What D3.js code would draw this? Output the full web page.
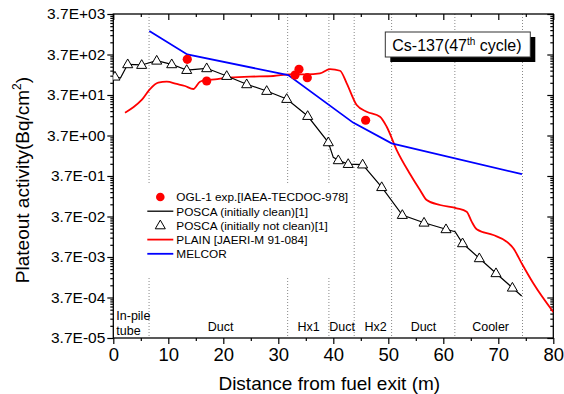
<!DOCTYPE html>
<html>
<head>
<meta charset="utf-8">
<script src="https://cdn.jsdelivr.net/npm/d3@7"></script>
<style>
  body { margin: 0; background: #fff; }
  svg { font-family: "Liberation Sans", Arial, sans-serif; }
</style>
</head>
<body>
<div class="chart"></div>
<script>
// Data (x in m, y in Bq/cm2)
const melcor = [[6.55, 1400], [13.45, 370], [31.8, 115], [43.6, 7.7], [50.6, 2.37], [74.3, 0.41]];

const ogl1 = [[13.45, 282], [16.98, 82], [33.04, 115], [33.76, 160], [35.27, 99], [45.88, 8.8]];

const poscaNotClean = [[0.3, 105], [2.62, 212], [5.16, 204], [7.89, 260], [10.62, 212], [13.35, 153],
    [16.98, 169], [20.62, 109], [24.25, 68], [27.89, 46.5], [31.53, 29.5], [35.34, 11.2],
    [39.09, 2.51], [40.91, 0.904], [42.71, 0.73], [45.33, 0.71], [48.8, 0.196], [52.55, 0.0403],
    [56.5, 0.026], [60.49, 0.0179], [63.5, 0.00806], [66.55, 0.00344], [69.58, 0.00147],
    [72.56, 0.000646]];

const poscaClean = [[0, 109], [1.3, 97], [2.62, 212], [5.16, 204], [7.89, 260], [10.62, 212],
    [13.35, 153], [16.98, 169], [20.62, 109], [24.25, 68], [27.89, 46.5], [31.53, 29.5],
    [35.34, 11.2], [39.09, 2.51], [40.0, 1.07], [40.91, 0.904], [42.71, 0.73], [45.33, 0.71],
    [48.8, 0.196], [52.55, 0.0403], [56.5, 0.026], [60.49, 0.0179], [62.15, 0.0156],
    [63.5, 0.00806], [66.55, 0.00344], [69.58, 0.00147], [72.56, 0.000646], [74.25, 0.000403]];

const plain = [[2.13, 13.5], [3.64, 18.4], [5.16, 27.9], [6.67, 52], [8.18, 74.5], [9.71, 78.9],
    [11.53, 69.2], [13.04, 61.7], [14.55, 52], [15.76, 78.9], [16.98, 86.8], [18.49, 90.4],
    [20.62, 99], [24.87, 105], [29.09, 109], [32.13, 120], [35.16, 120], [37.58, 127],
    [39.4, 162], [41.22, 147], [42.44, 72], [44.25, 20.9], [46.07, 14.3], [48.49, 10.8],
    [49.71, 6.1], [51.53, 1.62], [53.95, 0.415], [55.76, 0.167], [56.98, 0.0945], [59.4, 0.0711],
    [62.44, 0.0589], [64.25, 0.0486], [65.16, 0.0276], [66.07, 0.0179], [69.09, 0.0129],
    [71.53, 0.00883], [72.73, 0.00607], [74.25, 0.00258], [76.36, 0.00083], [80, 0.000162]];

// Region boundaries and labels
const boundaries = [6.5, 31.7, 39.2, 43.8, 50.6, 62.1, 74.4];
const regions = [
    { name: "Duct", x: 19.5 }, { name: "Hx1", x: 35.5 }, { name: "Duct", x: 41.6 },
    { name: "Hx2", x: 47.7 }, { name: "Duct", x: 56.4 }, { name: "Cooler", x: 68.6 }
];

const xTicks = d3.range(0, 81, 10);
const xMinor = d3.range(5, 80, 10);
const yExps = d3.range(-5, 4);

// Dimensions
const W = 564, H = 394;
const margin = { top: 14, right: 10.7, bottom: 56, left: 113.3 },
    width = W - margin.left - margin.right,
    height = H - margin.top - margin.bottom;

const svg = d3.select('.chart')
    .append('svg')
        .attr('width', W)
        .attr('height', H)
    .append('g')
        .attr('transform', `translate(${margin.left},${margin.top})`);

// Scales
const x = d3.scaleLinear().domain([0, 80]).range([0, width]);
const y = d3.scaleLog().domain([3.7e-5, 3.7e3]).range([height, 0]);

const majorY = yExps.map(e => 3.7 * Math.pow(10, e));
const minorY = [];
yExps.slice(0, -1).forEach(e => {
    for (let k = 2; k <= 9; k++) minorY.push(3.7 * k * Math.pow(10, e));
});

function fmtE(v) {
    const e = Math.round(Math.log10(v / 3.7));
    return '3.7E' + (e < 0 ? '-' : '+') + String(Math.abs(e)).padStart(2, '0');
}

// Dotted region boundaries
svg.append('g').selectAll('line')
    .data(boundaries)
    .join('line')
        .attr('x1', d => x(d)).attr('x2', d => x(d))
        .attr('y1', 0).attr('y2', height)
        .attr('stroke', '#888')
        .attr('stroke-width', 1)
        .attr('stroke-dasharray', '1,2');

// Axes
function styleAxis(g) {
    g.select('.domain').remove();
    g.selectAll('line').attr('stroke', '#000').attr('stroke-width', 1.2);
    g.selectAll('text').attr('fill', '#000');
}

svg.append('g')
    .attr('transform', `translate(0,${height})`)
    .call(d3.axisBottom(x).tickValues(xTicks).tickSize(6).tickPadding(4).tickFormat(d3.format('d')))
    .call(styleAxis)
    .call(g => g.selectAll('text').attr('font-size', 18.5));
svg.append('g')
    .attr('transform', `translate(0,${height})`)
    .call(d3.axisBottom(x).tickValues(xMinor).tickSize(3).tickFormat(''))
    .call(styleAxis);
svg.append('g')
    .call(d3.axisBottom(x).tickValues(xTicks).tickSize(6).tickFormat(''))
    .call(styleAxis);
svg.append('g')
    .call(d3.axisBottom(x).tickValues(xMinor).tickSize(3).tickFormat(''))
    .call(styleAxis);

svg.append('g')
    .call(d3.axisLeft(y).tickValues(majorY).tickSize(6).tickPadding(2).tickFormat(fmtE))
    .call(styleAxis)
    .call(g => g.selectAll('text').attr('font-size', 15.5));
svg.append('g')
    .call(d3.axisLeft(y).tickValues(minorY).tickSize(3).tickFormat(''))
    .call(styleAxis);
svg.append('g')
    .attr('transform', `translate(${width},0)`)
    .call(d3.axisLeft(y).tickValues(majorY).tickSize(6).tickFormat(''))
    .call(styleAxis);
svg.append('g')
    .attr('transform', `translate(${width},0)`)
    .call(d3.axisLeft(y).tickValues(minorY).tickSize(3).tickFormat(''))
    .call(styleAxis);

// Frame
svg.append('rect')
    .attr('width', width).attr('height', height)
    .attr('fill', 'none')
    .attr('stroke', '#000')
    .attr('stroke-width', 1.3);

// Region labels
const regionText = svg.append('g')
    .attr('font-size', 12.5)
    .attr('fill', '#000');
regionText.selectAll('text')
    .data(regions)
    .join('text')
        .attr('x', d => x(d.x))
        .attr('y', 317)
        .attr('text-anchor', 'middle')
        .text(d => d.name);
regionText.append('text').attr('x', 3).attr('y', 305.5).text('In-pile');
regionText.append('text').attr('x', 3).attr('y', 321).text('tube');

// Legend box (white background covers dotted lines)
const legend = svg.append('g').attr('transform', 'translate(33,169)');
legend.append('rect')
    .attr('width', 200).attr('height', 94)
    .attr('fill', '#fff');

const legendItems = [
    { label: 'OGL-1 exp.[IAEA-TECDOC-978]', type: 'dot' },
    { label: 'POSCA (initially clean)[1]', type: 'line', color: '#000', w: 1.3 },
    { label: 'POSCA (initially not clean)[1]', type: 'tri' },
    { label: 'PLAIN [JAERI-M 91-084]', type: 'line', color: '#ff0000', w: 1.8 },
    { label: 'MELCOR', type: 'line', color: '#0000ff', w: 1.8 }
];

const triangle = d3.symbol().type(d3.symbolTriangle).size(44);

legendItems.forEach((d, i) => {
    const row = legend.append('g').attr('transform', `translate(0,${14 + i * 14.2})`);
    if (d.type === 'line') {
        row.append('line')
            .attr('x1', 1).attr('x2', 27)
            .attr('stroke', d.color).attr('stroke-width', d.w);
    } else if (d.type === 'dot') {
        row.append('circle').attr('cx', 14).attr('r', 4.3).attr('fill', '#ff0000');
    } else {
        row.append('path').attr('d', triangle).attr('transform', 'translate(14,0.5)')
            .attr('fill', '#fff').attr('stroke', '#000').attr('stroke-width', 1);
    }
    row.append('text')
        .attr('x', 30).attr('y', 4.3)
        .attr('font-size', 11.8)
        .text(d.label);
});

// Curves
const clip = svg.append('clipPath').attr('id', 'plotclip')
    .append('rect').attr('width', width).attr('height', height);

const lineGen = d3.line().x(d => x(d[0])).y(d => y(d[1]));
const curves = svg.append('g').attr('clip-path', 'url(#plotclip)');

curves.append('path')
    .datum(plain)
    .attr('d', lineGen.curve(d3.curveMonotoneX))
    .attr('fill', 'none').attr('stroke', '#ff0000').attr('stroke-width', 1.8);

curves.append('path')
    .datum(melcor)
    .attr('d', d3.line().x(d => x(d[0])).y(d => y(d[1])))
    .attr('fill', 'none').attr('stroke', '#0000ff').attr('stroke-width', 1.8);

curves.append('path')
    .datum(poscaClean)
    .attr('d', d3.line().x(d => x(d[0])).y(d => y(d[1])))
    .attr('fill', 'none').attr('stroke', '#000').attr('stroke-width', 1.2);

curves.selectAll('path.tri')
    .data(poscaNotClean)
    .join('path').attr('class', 'tri')
        .attr('d', triangle)
        .attr('transform', d => `translate(${x(d[0])},${y(d[1]) + 0.5})`)
        .attr('fill', '#fff').attr('stroke', '#000').attr('stroke-width', 1);

svg.append('g').selectAll('circle')
    .data(ogl1)
    .join('circle')
        .attr('cx', d => x(d[0]))
        .attr('cy', d => y(d[1]))
        .attr('r', 4.6)
        .attr('fill', '#ff0000');

// Title box with shadow
const tb = svg.append('g').attr('transform', 'translate(272,18)');
tb.append('rect').attr('x', 5).attr('y', 5).attr('width', 145).attr('height', 25).attr('fill', '#000');
tb.append('rect').attr('width', 145).attr('height', 25)
    .attr('fill', '#fff').attr('stroke', '#333').attr('stroke-width', 1);
const tt = tb.append('text').attr('x', 7).attr('y', 19).attr('font-size', 16);
tt.append('tspan').text('Cs-137(47');
tt.append('tspan').attr('font-size', 10).attr('dy', -6).text('th');
tt.append('tspan').attr('dy', 6).text(' cycle)');

// Axis titles
svg.append('text')
    .attr('x', width / 2 - 4)
    .attr('y', 376)
    .attr('text-anchor', 'middle')
    .attr('font-size', 19)
    .text('Distance from fuel exit (m)');

const yt = svg.append('text')
    .attr('transform', `translate(${29 - margin.left},${180 - margin.top}) rotate(-90)`)
    .attr('text-anchor', 'middle')
    .attr('font-size', 19);
yt.append('tspan').text('Plateout activity(Bq/cm');
yt.append('tspan').attr('font-size', 12).attr('dy', -8).text('2');
yt.append('tspan').attr('dy', 8).text(')');
</script>
</body>
</html>
